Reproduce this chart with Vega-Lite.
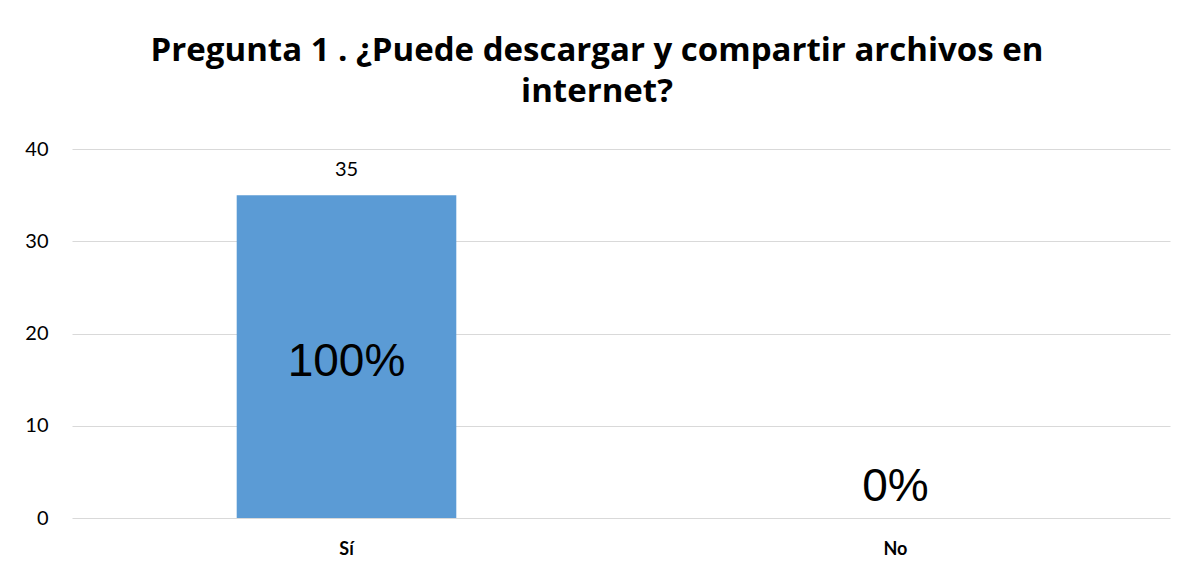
{
  "$schema": "https://vega.github.io/schema/vega-lite/v6.json",
  "autosize": {"type": "none"},
  "padding": {"left": 72, "top": 149, "right": 29, "bottom": 60},
  "width": 1098,
  "height": 369,
  "background": "white",
  "config": {"view": {"stroke": null}},
  "title": {
    "text": ["Pregunta 1 . ¿Puede descargar y compartir archivos en\u00a0\u00a0\u00a0\u00a0", "internet?"],
    "font": "Open Sans",
    "fontSize": 33,
    "fontWeight": "bold",
    "color": "#000000",
    "lineHeight": 41,
    "anchor": "middle",
    "frame": "group",
    "dx": -24,
    "offset": 30
  },
  "data": {
    "values": [
      {"respuesta": "Sí", "cantidad": 35, "porcentaje": "100%"},
      {"respuesta": "No", "cantidad": 0, "porcentaje": "0%"}
    ]
  },
  "encoding": {
    "x": {
      "field": "respuesta",
      "type": "nominal",
      "sort": ["Sí", "No"],
      "scale": {"paddingInner": 0.6, "paddingOuter": 0.3},
      "axis": {
        "title": null,
        "labelAngle": 0,
        "domain": false,
        "ticks": false,
        "labelFont": "Lato",
        "labelFontSize": 18,
        "labelFontWeight": "bold",
        "labelColor": "#000000",
        "labelPadding": 22
      }
    },
    "y": {
      "field": "cantidad",
      "type": "quantitative",
      "scale": {"domain": [0, 40]},
      "axis": {
        "title": null,
        "values": [0, 10, 20, 30, 40],
        "domain": false,
        "ticks": false,
        "grid": true,
        "gridColor": "#d9d9d9",
        "gridWidth": 1,
        "labelFont": "Lato",
        "labelFontSize": 20,
        "labelColor": "#000000",
        "labelPadding": 24
      }
    }
  },
  "layer": [
    {"mark": {"type": "bar", "color": "#5b9bd5"}},
    {
      "transform": [{"filter": "datum.cantidad > 0"}],
      "mark": {"type": "text", "font": "Lato", "fontSize": 20, "color": "#000000", "baseline": "middle", "dy": -25},
      "encoding": {"text": {"field": "cantidad", "type": "quantitative"}}
    },
    {
      "transform": [{"filter": "datum.cantidad > 0"}],
      "mark": {"type": "text", "font": "Liberation Sans", "fontSize": 46, "color": "#000000", "baseline": "middle", "dy": 167},
      "encoding": {"text": {"field": "porcentaje", "type": "nominal"}}
    },
    {
      "transform": [{"filter": "datum.cantidad == 0"}],
      "mark": {"type": "text", "font": "Liberation Sans", "fontSize": 46, "color": "#000000", "baseline": "middle", "dy": -31},
      "encoding": {"text": {"field": "porcentaje", "type": "nominal"}}
    }
  ]
}
